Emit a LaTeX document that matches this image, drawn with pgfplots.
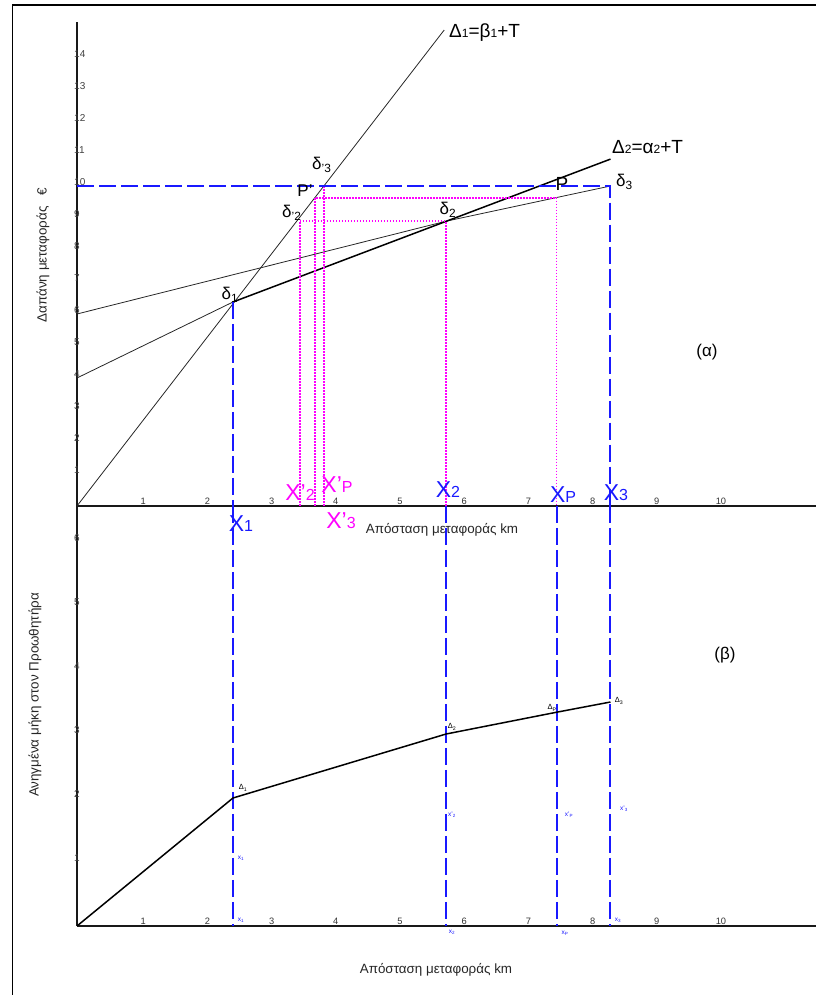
\documentclass[border=0pt]{standalone}
\usepackage{pgfplots}
\pgfplotsset{compat=1.18}
\usepackage{fontspec}
\setmainfont{Liberation Sans}
\definecolor{bl}{RGB}{25,25,255}
\definecolor{mg}{RGB}{255,0,255}
\newcommand{\fs}[1]{\fontsize{#1}{#1}\selectfont}
\begin{document}
\begin{tikzpicture}
\path[use as bounding box] (0,0) rectangle (815pt,995pt);
\pgfplotsset{
  base/.style={
    scale only axis, axis x line*=bottom, axis y line*=left,
    axis line style={black!90, line width=1.2pt},
    xmin=0, xmax=11.6, width=744.7pt, ymin=0,
    enlargelimits=false,
    /pgf/number format/assume math mode=true,
    xtick={1,...,10}, major tick length=0pt,
    xticklabel style={font=\fs{9.3}, text=black!80, anchor=south, inner sep=1pt, xshift=2pt},
    yticklabel style={font=\fs{10}, text=black!75, anchor=west, inner sep=0pt, xshift=-3pt, yshift=4pt},
  },
  thinl/.style={black!85, line width=0.8pt},
  thickl/.style={black, line width=1.5pt},
  bdash/.style={bl, line width=2pt, dash pattern=on 17pt off 5pt},
  mdot/.style={mg, line width=1.6pt, dash pattern=on 1.5pt off 1.5pt},
}
% ---------- top panel (alpha)
\begin{axis}[base, at={(77pt,489pt)}, anchor=south west,
  height=484pt, ymax=15.125, ytick={1,...,14}]
\addplot[thinl] coordinates {(0,0) (5.72,14.875)};
\addplot[thinl] coordinates {(0,4) (2.43,6.375)};
\addplot[thinl] coordinates {(0,6) (5.75,8.9)};
\addplot[thinl] coordinates {(5.75,8.9) (8.31,10)};
\addplot[thickl] coordinates {(2.43,6.375) (8.31,10.84)};
\addplot[mdot] coordinates {(3.47,0) (3.47,8.9) (5.75,8.9) (5.75,0)};
\addplot[mdot] coordinates {(3.71,0) (3.71,9.625) (7.47,9.625) (7.47,0)};
\addplot[mdot] coordinates {(3.85,0) (3.85,10)};
\addplot[bdash] coordinates {(0,10) (8.31,10) (8.31,0)};
\addplot[bdash] coordinates {(2.43,6.375) (2.43,0)};
\end{axis}
% ---------- bottom panel (beta)
\begin{axis}[base, at={(77pt,69pt)}, anchor=south west,
  height=420pt, ymax=6.5625, ytick={1,...,6},
  x axis line style={line width=1.7pt}]
\addplot[bdash] coordinates {(2.43,6.5625) (2.43,0)};
\addplot[bdash] coordinates {(5.75,6.5625) (5.75,0)};
\addplot[bdash] coordinates {(7.47,6.5625) (7.47,0)};
\addplot[bdash] coordinates {(8.31,6.5625) (8.31,0)};
\addplot[thickl] coordinates {(0,0) (2.43,2.0) (5.75,3.0) (7.47,3.34) (8.31,3.5)};
\end{axis}
% ---------- frame
\draw[line width=1.6pt] (12.5pt,990pt) rectangle (830pt,-20pt);
% ---------- top labels
\node[anchor=west, inner sep=0] at (449pt,962pt) {\fs{19}Δ{\fs{12}1}=β{\fs{12}1}+T};
\node[anchor=west, inner sep=0] at (612pt,848pt) {\fs{19}Δ{\fs{12}2}=α{\fs{12}2}+T};
\node[anchor=west, inner sep=0] at (616pt,813pt) {\fs{17}δ\textsubscript{3}};
\node[inner sep=0] at (562pt,811pt) {\fs{19}P};
\node[inner sep=0] at (305pt,804pt) {\fs{17}P'};
\node[anchor=west, inner sep=0] at (312pt,830pt) {\fs{17}δ\textsubscript{'3}};
\node[anchor=west, inner sep=0] at (282pt,782pt) {\fs{17}δ\textsubscript{'2}};
\node[inner sep=0] at (448pt,785pt) {\fs{17}δ\textsubscript{2}};
\node[inner sep=0] at (230pt,700pt) {\fs{17}δ\textsubscript{1}};
\node[inner sep=0] at (707pt,643pt) {\fs{17}(α)};
\node[inner sep=0] at (725pt,340pt) {\fs{17}(β)};
% X labels
\node[inner sep=0, text=bl] at (241pt,471pt) {\fs{23}X{\fs{16}1}};
\node[inner sep=0, text=bl] at (448pt,505pt) {\fs{23}X{\fs{16}2}};
\node[inner sep=0, text=bl] at (563pt,500pt) {\fs{23}X{\fs{16}P}};
\node[inner sep=0, text=bl] at (616pt,502pt) {\fs{23}X{\fs{16}3}};
\node[inner sep=0, text=mg] at (300pt,502pt) {\fs{23}X'{\fs{16}2}};
\node[inner sep=0, text=mg] at (337pt,510pt) {\fs{23}X'{\fs{16}P}};
\node[inner sep=0, text=mg] at (341pt,474pt) {\fs{23}X'{\fs{16}3}};
% axis labels
\node[inner sep=0, text=black!85] at (442pt,465pt) {\fs{13.4}Απόσταση μεταφοράς km};
\node[inner sep=0, text=black!85] at (436pt,25pt) {\fs{13.4}Απόσταση μεταφοράς km};
\node[inner sep=0, rotate=90, text=black!85] at (43pt,740pt) {\fs{13.4}Δαπάνη μεταφοράς \ \ €};
\node[inner sep=0, rotate=90, text=black!85] at (35pt,300pt) {\fs{13.4}Ανηγμένα μήκη στον Προωθητήρα};
% small bottom labels
\node[inner sep=0, text=bl] at (241pt,137pt) {\fs{6.5}x\textsubscript{1}};
\node[inner sep=0, text=bl] at (241pt,75pt) {\fs{6.5}x\textsubscript{1}};
\node[inner sep=0, text=bl] at (452pt,180pt) {\fs{6.5}x'\textsubscript{2}};
\node[inner sep=0, text=bl] at (569pt,180pt) {\fs{6.5}x'\textsubscript{P}};
\node[inner sep=0, text=bl] at (624pt,186pt) {\fs{6.5}x'\textsubscript{3}};
\node[inner sep=0, text=bl] at (452pt,63pt) {\fs{6.5}x\textsubscript{2}};
\node[inner sep=0, text=bl] at (565pt,62pt) {\fs{6.5}x\textsubscript{P}};
\node[inner sep=0, text=bl] at (618pt,75pt) {\fs{6.5}x\textsubscript{3}};
\node[inner sep=0] at (243pt,207pt) {\fs{7.5}Δ\textsubscript{1}};
\node[inner sep=0] at (452pt,268pt) {\fs{7.5}Δ\textsubscript{2}};
\node[inner sep=0] at (552pt,287pt) {\fs{7.5}Δ\textsubscript{P}};
\node[inner sep=0] at (619pt,294pt) {\fs{7.5}Δ\textsubscript{3}};
\end{tikzpicture}
\end{document}
